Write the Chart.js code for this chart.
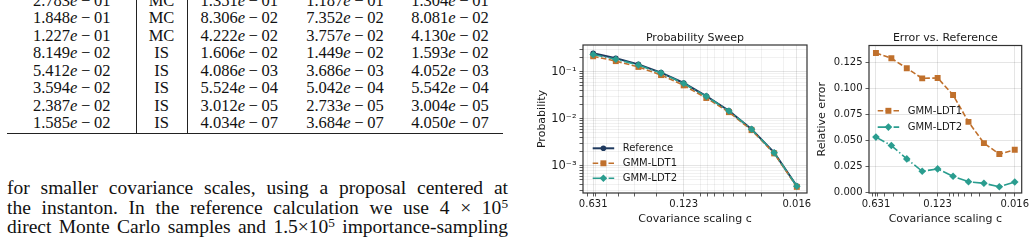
<!DOCTYPE html>
<html lang="en">
<head>
<meta charset="UTF-8">
<title>Probability sweep</title>
<script src="https://cdn.jsdelivr.net/npm/chart.js@4.4.1/dist/chart.umd.min.js"></script>
<style>
  body { margin: 0; width: 1036px; height: 248px; overflow: hidden; background: #fff; position: relative; }
  .row { position: absolute; left: 0; height: 17.5px; line-height: 17.5px; font: 16.5px "Liberation Serif", serif; color: #111; white-space: nowrap; }
  .cell { position: absolute; top: 0; text-align: center; transform: translateX(-50%); }
  .op { margin: 0 0.22em; }
  .vr { position: absolute; top: 0; width: 0.8px; height: 133px; background: #222; }
  .rule { position: absolute; left: 7px; top: 132.6px; width: 496px; height: 1.2px; background: #222; }
  .ln { position: absolute; left: 7px; width: 501px; height: 20px; line-height: 20px; font: 19.5px "Liberation Serif", serif; color: #111;
        text-align: justify; text-align-last: justify; }
  .ln sup { font-size: 0.68em; vertical-align: 0; position: relative; top: -0.45em; line-height: 0; }
  canvas { position: absolute; top: 0; }
</style>
</head>
<body>

<div id="table"></div>
<div class="vr" style="left:136.3px"></div>
<div class="vr" style="left:187px"></div>
<div class="rule"></div>

<div class="ln" style="top:176.6px">for smaller covariance scales, using a proposal centered at</div>
<div class="ln" style="top:196.6px">the instanton. In the reference calculation we use 4 × 10<sup>5</sup></div>
<div class="ln" style="top:216.3px">direct Monte Carlo samples and 1.5×10<sup>5</sup> importance-sampling</div>

<canvas id="sweep" width="300" height="248" style="left:520px"></canvas>
<canvas id="error" width="236" height="248" style="left:800px"></canvas>

<script>
// table rows (scale, method, reference, LDT1, LDT2)
var tableRows = [
    ['2.783e-01', 'MC', '1.351e-01', '1.187e-01', '1.304e-01'],
    ['1.848e-01', 'MC', '8.306e-02', '7.352e-02', '8.081e-02'],
    ['1.227e-01', 'MC', '4.222e-02', '3.757e-02', '4.130e-02'],
    ['8.149e-02', 'IS', '1.606e-02', '1.449e-02', '1.593e-02'],
    ['5.412e-02', 'IS', '4.086e-03', '3.686e-03', '4.052e-03'],
    ['3.594e-02', 'IS', '5.524e-04', '5.042e-04', '5.542e-04'],
    ['2.387e-02', 'IS', '3.012e-05', '2.733e-05', '3.004e-05'],
    ['1.585e-02', 'IS', '4.034e-07', '3.684e-07', '4.050e-07']
];
var colCenters = [71.7, 161.5, 239.3, 345, 450];

function sci(s) {
    var p = s.split('e-');
    if (p.length < 2) return s;
    return p[0] + '<i>e</i><span class="op">\u2212</span>' + p[1];
}

var tableEl = document.getElementById('table');
tableRows.forEach(function (r, i) {
    var row = document.createElement('div');
    row.className = 'row';
    row.style.top = (-9.5 + i * 17.5) + 'px';
    r.forEach(function (txt, j) {
        var c = document.createElement('span');
        c.className = 'cell';
        c.style.left = colCenters[j] + 'px';
        c.innerHTML = sci(txt);
        row.appendChild(c);
    });
    tableEl.appendChild(row);
});

// ---- chart data ----
var seriesNames = ['Reference', 'GMM-LDT1', 'GMM-LDT2'];
var cValues = [0.6310, 0.4190, 0.2783, 0.1848, 0.1227, 0.08149, 0.05412, 0.03594, 0.02387, 0.01585];
var refProb = [0.246, 0.193, 0.1435, 0.0955, 0.0575, 0.0304, 0.0148, 0.0060, 0.0019, 0.00037];
var ldt1Prob = [0.213, 0.168, 0.1264, 0.0850, 0.0512, 0.0276, 0.0138, 0.00572, 0.00183, 0.000355];
var ldt2Prob = [0.233, 0.184, 0.139, 0.0935, 0.0562, 0.0299, 0.0146, 0.00595, 0.00189, 0.000366];
var ldt1Err = [0.134, 0.1288, 0.1193, 0.1096, 0.110, 0.0937, 0.0679, 0.0475, 0.037, 0.0411];
var ldt2Err = [0.0533, 0.0452, 0.0324, 0.0205, 0.0228, 0.0157, 0.0105, 0.009, 0.0057, 0.0103];

var xMajor = [0.6310, 0.1227, 0.01585];
var xTickLabels = ['0.631', '0.123', '0.016'];
var xMinor = [0.7, 0.6, 0.5, 0.4, 0.3, 0.2, 0.09, 0.08, 0.07, 0.06, 0.05, 0.04, 0.03, 0.02];
var errTicks = [0, 0.025, 0.05, 0.075, 0.1, 0.125];

var navy = '#1f3a5f', orange = '#c0702c', teal = '#2a9d8f';
var ink = '#1a1a1a';

Chart.defaults.font.family = '"DejaVu Sans", sans-serif';
Chart.defaults.color = ink;

function pts(ys) {
    return cValues.map(function (c, i) { return { x: c, y: ys[i] }; });
}

// minor ticks on the log probability axis
var probTicks = [];
for (var e = -4; e <= -1; e++) {
    for (var k = 1; k <= 9; k++) {
        var v = k * Math.pow(10, e);
        if (v >= 2.63e-4 && v <= 0.37) probTicks.push(v);
    }
}
var sup = { '-': '\u207B', '0': '\u2070', '1': '\u00B9', '2': '\u00B2', '3': '\u00B3', '4': '\u2074', '5': '\u2075', '6': '\u2076', '7': '\u2077', '8': '\u2078', '9': '\u2079' };
function decadeLabel(v) {
    var lg = Math.log10(v);
    if (Math.abs(lg - Math.round(lg)) > 1e-9) return '';
    return '10' + String(Math.round(lg)).split('').map(function (ch) { return sup[ch]; }).join('');
}

function isMajorX(v) {
    return xMajor.some(function (m) { return Math.abs(m - v) < 1e-9; });
}

function xAxis(minorGrid) {
    return {
        type: 'logarithmic',
        reverse: true,
        min: 0.01318,
        max: 0.7586,
        bounds: 'data',
        afterBuildTicks: function (s) {
            s.ticks = xMajor.concat(xMinor).sort(function (a, b) { return b - a; })
                .map(function (v) { return { value: v }; });
        },
        afterFit: function (s) { s.height = 55; },
        ticks: {
            autoSkip: false, maxRotation: 0, padding: 2, font: { size: 10 }, color: ink,
            callback: function (v) {
                for (var i = 0; i < xMajor.length; i++) {
                    if (Math.abs(xMajor[i] - v) < 1e-9) return xTickLabels[i];
                }
                return '';
            }
        },
        grid: {
            color: function (ctx) {
                if (!ctx.tick) return 'rgba(0,0,0,0)';
                if (isMajorX(ctx.tick.value)) return 'rgba(0,0,0,0.13)';
                return minorGrid ? 'rgba(0,0,0,0.07)' : 'rgba(0,0,0,0)';
            },
            tickColor: '#333', tickLength: 3.5, lineWidth: 0.8
        },
        border: { display: false },
        title: { display: true, text: 'Covariance scaling c', font: { size: 11 }, color: ink, padding: { top: 0, bottom: 22.4 } }
    };
}

// frame on all four sides
var spines = {
    id: 'spines',
    afterDatasetsDraw: function (chart) {
        var ctx = chart.ctx, a = chart.chartArea;
        ctx.save();
        ctx.strokeStyle = '#333';
        ctx.lineWidth = 1.2;
        ctx.strokeRect(a.left, a.top, a.right - a.left, a.bottom - a.top);
        ctx.restore();
    }
};

// title centred over the plot area
var panelTitle = {
    id: 'panelTitle',
    afterDraw: function (chart, args, opts) {
        var ctx = chart.ctx, a = chart.chartArea;
        ctx.save();
        ctx.font = '11px "DejaVu Sans"';
        ctx.fillStyle = ink;
        ctx.textAlign = 'center';
        ctx.textBaseline = 'middle';
        ctx.fillText(opts.text, (a.left + a.right) / 2, a.top - 7);
        ctx.restore();
    }
};

function drawMarker(ctx, style, x, y, r, color) {
    ctx.fillStyle = color;
    ctx.beginPath();
    if (style === 'circle') {
        ctx.arc(x, y, r, 0, Math.PI * 2);
    } else if (style === 'rect') {
        var s = r * Math.SQRT1_2;
        ctx.rect(x - s, y - s, 2 * s, 2 * s);
    } else {
        ctx.moveTo(x, y - r); ctx.lineTo(x + r, y); ctx.lineTo(x, y + r); ctx.lineTo(x - r, y);
        ctx.closePath();
    }
    ctx.fill();
}

// legend drawn inside the axes, matplotlib style
var panelLegend = {
    id: 'panelLegend',
    afterDraw: function (chart, args, opts) {
        var ctx = chart.ctx, a = chart.chartArea;
        ctx.save();
        ctx.font = '10px "DejaVu Sans"';
        ctx.textBaseline = 'middle';
        chart.data.datasets.forEach(function (ds, i) {
            var y = a.top + opts.y + i * opts.gap;
            var x0 = a.left + opts.x;
            ctx.strokeStyle = ds.borderColor;
            ctx.lineWidth = ds.borderWidth;
            ctx.setLineDash(ds.borderDash || []);
            ctx.beginPath();
            ctx.moveTo(x0, y);
            ctx.lineTo(x0 + 21.5, y);
            ctx.stroke();
            ctx.setLineDash([]);
            drawMarker(ctx, ds.pointStyle, x0 + 10.7, y, ds.pointRadius, ds.borderColor);
            ctx.fillStyle = ink;
            ctx.fillText(ds.label, x0 + 30, y + 0.5);
        });
        ctx.restore();
    }
};

var refStyle = { borderColor: navy, backgroundColor: navy, borderWidth: 2, pointStyle: 'circle', pointRadius: 2.8 };
var ldt1Style = { borderColor: orange, backgroundColor: orange, borderWidth: 1.6, borderDash: [5.5, 2.4], pointStyle: 'rect', pointRadius: 4.2 };
var ldt2Style = { borderColor: teal, backgroundColor: teal, borderWidth: 1.6, borderDash: [9.6, 2.4, 1.5, 2.4], pointStyle: 'rectRot', pointRadius: 3.8 };

function dataset(label, ys, style, order) {
    return Object.assign({ label: label, data: pts(ys), pointBorderWidth: 0, tension: 0, order: order }, style);
}

var commonPlugins = { legend: { display: false }, tooltip: { enabled: false } };

new Chart(document.getElementById('sweep'), {
    type: 'line',
    data: {
        datasets: [
            dataset(seriesNames[0], refProb, refStyle, 3),
            dataset(seriesNames[1], ldt1Prob, ldt1Style, 2),
            dataset(seriesNames[2], ldt2Prob, ldt2Style, 1)
        ]
    },
    options: {
        responsive: false, animation: false, devicePixelRatio: 1,
        layout: { padding: { top: 45, right: 13, bottom: 0, left: 0 } },
        plugins: Object.assign({
            panelTitle: { text: 'Probability Sweep' },
            panelLegend: { x: 9.7, y: 103.3, gap: 15 }
        }, commonPlugins),
        scales: {
            x: xAxis(true),
            y: {
                type: 'logarithmic', min: 2.63e-4, max: 0.37, bounds: 'data',
                afterBuildTicks: function (s) { s.ticks = probTicks.map(function (v) { return { value: v }; }); },
                afterFit: function (s) { s.width = 63; },
                ticks: { autoSkip: false, padding: 3, font: { size: 11.5 }, color: ink, callback: decadeLabel },
                grid: {
                    color: function (ctx) {
                        if (!ctx.tick) return 'rgba(0,0,0,0)';
                        return decadeLabel(ctx.tick.value) ? 'rgba(0,0,0,0.13)' : 'rgba(0,0,0,0.07)';
                    },
                    tickColor: '#333', tickLength: 3.5, lineWidth: 0.8
                },
                border: { display: false },
                title: { display: true, text: 'Probability', font: { size: 11 }, color: ink, padding: { top: 15.1, bottom: 0 } }
            }
        }
    },
    plugins: [spines, panelTitle, panelLegend]
});

new Chart(document.getElementById('error'), {
    type: 'line',
    data: {
        datasets: [
            dataset(seriesNames[1], ldt1Err, ldt1Style, 2),
            dataset(seriesNames[2], ldt2Err, ldt2Style, 1)
        ]
    },
    options: {
        responsive: false, animation: false, devicePixelRatio: 1,
        layout: { padding: { top: 45.5, right: 14.3, bottom: 0, left: 0 } },
        plugins: Object.assign({
            panelTitle: { text: 'Error vs. Reference' },
            panelLegend: { x: 8.7, y: 65.3, gap: 16.3 }
        }, commonPlugins),
        scales: {
            x: xAxis(false),
            y: {
                type: 'linear', min: -0.0003, max: 0.1411, bounds: 'data',
                afterBuildTicks: function (s) { s.ticks = errTicks.map(function (v) { return { value: v }; }); },
                afterFit: function (s) { s.width = 69; },
                ticks: { autoSkip: false, padding: 3, font: { size: 10 }, color: ink,
                    callback: function (v) { return v.toFixed(3); } },
                grid: { color: 'rgba(0,0,0,0.13)', tickColor: '#333', tickLength: 3.5, lineWidth: 0.8 },
                border: { display: false },
                title: { display: true, text: 'Relative error', font: { size: 11 }, color: ink, padding: { top: 15.1, bottom: 0 } }
            }
        }
    },
    plugins: [spines, panelTitle, panelLegend]
});
</script>
</body>
</html>
